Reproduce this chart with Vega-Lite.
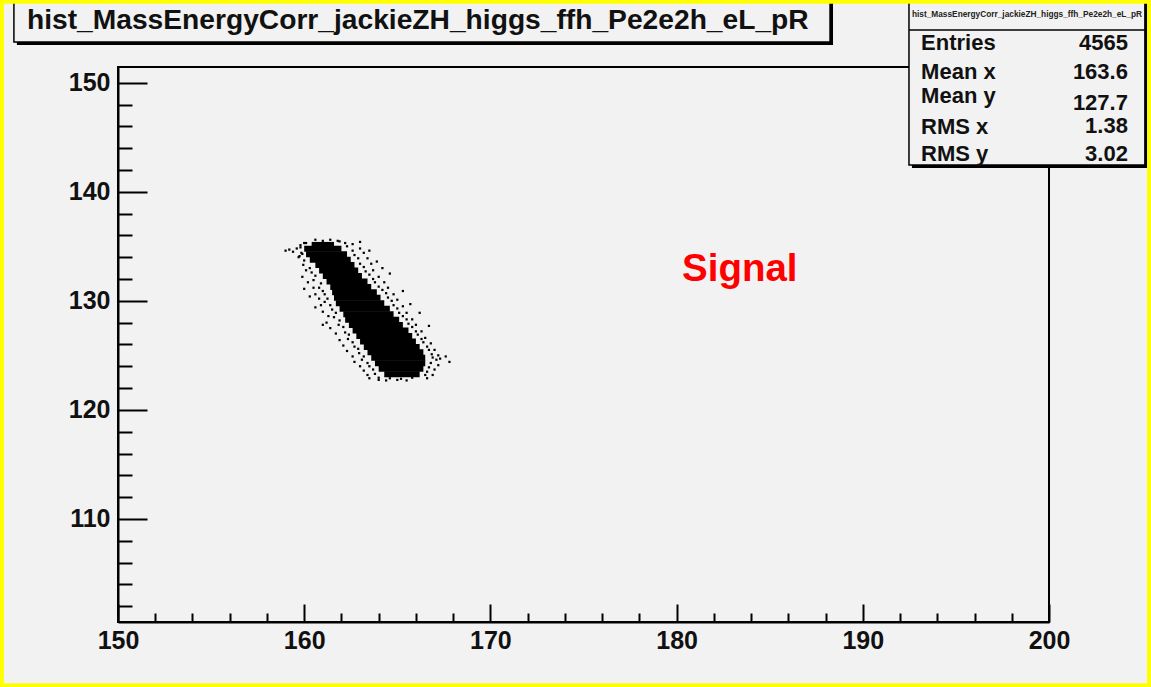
{
  "$schema": "https://vega.github.io/schema/vega-lite/v6.json",
  "width": 931,
  "height": 555,
  "autosize": "none",
  "padding": {"left": 118, "top": 67, "right": 102, "bottom": 65},
  "background": "#f2f2f2",
  "config": {
    "view": {"stroke": "black", "strokeWidth": 2, "fill": "#f2f2f2"},
    "font": "Liberation Sans"
  },
  "datasets": {
    "core": [
      {"y0":135.0,"y1":135.4,"x0":160.4,"x1":161.6},
      {"y0":134.5,"y1":135.05,"x0":160.0,"x1":162.0},
      {"y0":134.0,"y1":134.55,"x0":160.1,"x1":162.3},
      {"y0":133.5,"y1":134.05,"x0":160.3,"x1":162.5},
      {"y0":133.0,"y1":133.55,"x0":160.6,"x1":162.7},
      {"y0":132.5,"y1":133.05,"x0":160.8,"x1":162.9},
      {"y0":132.0,"y1":132.55,"x0":161.0,"x1":163.1},
      {"y0":131.5,"y1":132.05,"x0":161.2,"x1":163.4},
      {"y0":131.0,"y1":131.55,"x0":161.4,"x1":163.6},
      {"y0":130.5,"y1":131.05,"x0":161.5,"x1":163.9},
      {"y0":130.0,"y1":130.55,"x0":161.6,"x1":164.1},
      {"y0":129.5,"y1":130.05,"x0":161.7,"x1":164.3},
      {"y0":129.0,"y1":129.55,"x0":161.9,"x1":164.6},
      {"y0":128.5,"y1":129.05,"x0":162.1,"x1":164.8},
      {"y0":128.0,"y1":128.55,"x0":162.2,"x1":165.1},
      {"y0":127.5,"y1":128.05,"x0":162.4,"x1":165.3},
      {"y0":127.0,"y1":127.55,"x0":162.6,"x1":165.6},
      {"y0":126.5,"y1":127.05,"x0":162.8,"x1":165.8},
      {"y0":126.0,"y1":126.55,"x0":163.0,"x1":166.0},
      {"y0":125.5,"y1":126.05,"x0":163.2,"x1":166.2},
      {"y0":125.0,"y1":125.55,"x0":163.4,"x1":166.4},
      {"y0":124.5,"y1":125.05,"x0":163.6,"x1":166.5},
      {"y0":124.0,"y1":124.55,"x0":163.8,"x1":166.5},
      {"y0":123.5,"y1":124.05,"x0":164.0,"x1":166.4},
      {"y0":123.0,"y1":123.55,"x0":164.3,"x1":166.2}
    ],
    "fringe": [
      {"x":159.0,"y":134.6},{"x":159.2,"y":134.7},{"x":159.4,"y":134.5},{"x":159.6,"y":134.8},{"x":159.8,"y":135.1},
      {"x":160.0,"y":135.3},{"x":159.9,"y":134.3},{"x":159.7,"y":134.0},
      {"x":160.6,"y":135.6},{"x":161.0,"y":135.5},{"x":161.4,"y":135.6},{"x":161.8,"y":135.5},{"x":162.2,"y":135.3},
      {"x":162.6,"y":135.2},{"x":163.0,"y":135.4},{"x":163.0,"y":134.8},{"x":163.2,"y":134.4},
      {"x":159.9,"y":132.2},{"x":160.2,"y":131.7},{"x":160.0,"y":131.1},{"x":160.1,"y":132.8},{"x":160.5,"y":131.2},
      {"x":160.6,"y":130.6},{"x":160.8,"y":130.2},{"x":160.9,"y":129.6},{"x":161.0,"y":129.0},{"x":161.3,"y":128.6},
      {"x":161.2,"y":128.0},{"x":161.4,"y":127.5},{"x":161.7,"y":127.0},{"x":161.9,"y":126.4},{"x":162.1,"y":125.9},
      {"x":162.3,"y":125.4},{"x":162.6,"y":124.9},{"x":162.7,"y":124.4},{"x":163.0,"y":124.0},{"x":163.2,"y":123.6},
      {"x":163.4,"y":123.2},{"x":163.5,"y":122.9},{"x":164.0,"y":122.75},{"x":164.4,"y":122.7},{"x":165.0,"y":122.75},
      {"x":165.5,"y":122.7},{"x":160.6,"y":129.4},{"x":160.3,"y":130.4},{"x":161.0,"y":127.8},
      {"x":163.4,"y":133.9},{"x":163.6,"y":133.4},{"x":163.7,"y":132.8},{"x":164.0,"y":132.2},{"x":164.3,"y":131.7},
      {"x":164.5,"y":131.2},{"x":164.8,"y":130.6},{"x":165.0,"y":130.1},{"x":165.3,"y":129.5},{"x":165.5,"y":128.9},
      {"x":165.8,"y":128.3},{"x":166.0,"y":127.8},{"x":166.3,"y":127.2},{"x":166.5,"y":126.6},{"x":166.8,"y":126.1},
      {"x":167.0,"y":125.5},{"x":167.2,"y":125.0},{"x":167.1,"y":124.6},{"x":167.3,"y":124.7},{"x":167.6,"y":124.9},
      {"x":167.8,"y":124.4},{"x":167.2,"y":124.1},{"x":167.0,"y":123.7},{"x":166.9,"y":123.2},{"x":166.6,"y":122.9},
      {"x":163.9,"y":133.6},{"x":164.2,"y":133.0},{"x":165.3,"y":130.9},{"x":165.7,"y":129.7},{"x":163.5,"y":134.6},
      {"x":164.6,"y":132.5},{"x":166.2,"y":128.9},{"x":166.7,"y":127.7},
      {"x":160.1,"y":135.3},{"x":159.8,"y":134.9},{"x":159.85,"y":134.4},{"x":159.75,"y":134.1},{"x":160.0,"y":133.7},
      {"x":159.95,"y":133.3},{"x":160.3,"y":133.0},{"x":160.4,"y":132.6},{"x":160.6,"y":132.3},{"x":160.5,"y":131.9},
      {"x":160.9,"y":131.6},{"x":160.8,"y":131.2},{"x":161.0,"y":130.9},{"x":161.1,"y":130.6},{"x":161.25,"y":130.2},
      {"x":161.1,"y":129.9},{"x":161.4,"y":129.6},{"x":161.5,"y":129.2},{"x":161.7,"y":128.9},{"x":161.6,"y":128.5},
      {"x":161.9,"y":128.2},{"x":161.85,"y":127.8},{"x":162.1,"y":127.6},{"x":162.2,"y":127.1},{"x":162.4,"y":126.9},
      {"x":162.35,"y":126.5},{"x":162.6,"y":126.2},{"x":162.7,"y":125.8},{"x":162.9,"y":125.6},{"x":162.95,"y":125.2},
      {"x":163.2,"y":124.9},{"x":163.1,"y":124.6},{"x":163.4,"y":124.3},{"x":163.5,"y":124.0},{"x":163.7,"y":123.7},
      {"x":163.8,"y":123.3},{"x":164.0,"y":122.95},{"x":164.6,"y":122.9},{"x":165.2,"y":122.85},{"x":165.8,"y":122.95},
      {"x":161.9,"y":135.45},{"x":162.3,"y":135.0},{"x":162.6,"y":134.6},{"x":162.7,"y":134.2},{"x":162.9,"y":133.9},
      {"x":163.0,"y":133.4},{"x":163.2,"y":133.1},{"x":163.3,"y":132.7},{"x":163.5,"y":132.4},{"x":163.7,"y":132.0},
      {"x":163.8,"y":131.7},{"x":164.0,"y":131.3},{"x":164.2,"y":131.0},{"x":164.4,"y":130.7},{"x":164.5,"y":130.3},
      {"x":164.7,"y":130.0},{"x":164.8,"y":129.6},{"x":165.0,"y":129.3},{"x":165.1,"y":128.9},{"x":165.3,"y":128.6},
      {"x":165.5,"y":128.3},{"x":165.6,"y":127.9},{"x":165.8,"y":127.6},{"x":166.0,"y":127.2},{"x":166.1,"y":126.9},
      {"x":166.3,"y":126.5},{"x":166.4,"y":126.2},{"x":166.6,"y":125.8},{"x":166.7,"y":125.5},{"x":166.85,"y":125.1},
      {"x":166.9,"y":124.8},{"x":166.8,"y":124.3},{"x":166.7,"y":123.9},{"x":166.6,"y":123.5},{"x":166.5,"y":123.2}
    ],
    "stats": [
      {"label":"Entries","value":"4565","ly":153.64,"vy":153.64},
      {"label":"Mean x","value":"163.6","ly":150.98,"vy":150.98},
      {"label":"Mean y","value":"127.7","ly":148.78,"vy":148.14},
      {"label":"RMS x","value":"1.38","ly":145.94,"vy":146.03},
      {"label":"RMS y","value":"3.02","ly":143.46,"vy":143.46}
    ]
  },
  "layer": [
    {
      "data": {"name": "core"},
      "mark": {"type": "rect", "color": "black"},
      "encoding": {
        "x": {"field": "x0", "type": "quantitative", "scale": {"domain": [150, 200], "nice": false, "zero": false},
          "axis": {"orient": "bottom", "values": [150,160,170,180,190,200], "tickSize": -18, "tickWidth": 2, "tickColor": "black",
            "domainColor": "black", "domainWidth": 2, "grid": false, "title": null,
            "labelFont": "Liberation Sans", "labelFontWeight": "bold", "labelFontSize": 25, "labelColor": "#111",
            "labelPadding": 24, "labelFlush": false}},
        "x2": {"field": "x1"},
        "y": {"field": "y0", "type": "quantitative", "scale": {"domain": [100.55, 151.44], "nice": false, "zero": false},
          "axis": {"orient": "left", "values": [110,120,130,140,150], "tickSize": -29, "tickWidth": 2, "tickColor": "black",
            "domainColor": "black", "domainWidth": 2, "grid": false, "title": null,
            "labelFont": "Liberation Sans", "labelFontWeight": "bold", "labelFontSize": 25, "labelColor": "#111",
            "labelPadding": 37, "labelFlush": false}},
        "y2": {"field": "y1"}
      }
    },
    {
      "data": {"name": "fringe"},
      "mark": {"type": "square", "color": "black", "size": 5, "opacity": 1},
      "encoding": {
        "x": {"field": "x", "type": "quantitative", "scale": {"domain": [150, 200], "nice": false, "zero": false},
          "axis": {"orient": "bottom", "values": [152,154,156,158,162,164,166,168,172,174,176,178,182,184,186,188,192,194,196,198],
            "tickSize": -9, "tickWidth": 2, "tickColor": "black", "labels": false, "domain": false, "grid": false, "title": null}},
        "y": {"field": "y", "type": "quantitative", "scale": {"domain": [100.55, 151.44], "nice": false, "zero": false},
          "axis": {"orient": "left", "values": [102,104,106,108,112,114,116,118,122,124,126,128,132,134,136,138,142,144,146,148],
            "tickSize": -14, "tickWidth": 2, "tickColor": "black", "labels": false, "domain": false, "grid": false, "title": null}}
      }
    },
    {
      "data": {"values": [{"x0": 144.57, "x1": 188.40, "y0": 153.45, "y1": 158.5}]},
      "mark": {"type": "rect", "color": "black", "clip": false},
      "encoding": {
        "x": {"field": "x0", "type": "quantitative", "scale": {"domain": [150, 200], "nice": false, "zero": false}, "axis": null},
        "x2": {"field": "x1"},
        "y": {"field": "y0", "type": "quantitative", "scale": {"domain": [100.55, 151.44], "nice": false, "zero": false}, "axis": null},
        "y2": {"field": "y1"}
      }
    },
    {
      "data": {"values": [{"x0": 144.41, "x1": 188.24, "y0": 153.73, "y1": 158.5}]},
      "mark": {"type": "rect", "fill": "#f2f2f2", "stroke": "black", "strokeWidth": 1.5, "clip": false},
      "encoding": {
        "x": {"field": "x0", "type": "quantitative", "scale": {"domain": [150, 200], "nice": false, "zero": false}, "axis": null},
        "x2": {"field": "x1"},
        "y": {"field": "y0", "type": "quantitative", "scale": {"domain": [100.55, 151.44], "nice": false, "zero": false}, "axis": null},
        "y2": {"field": "y1"}
      }
    },
    {
      "data": {"values": [{"x": 145.11, "y": 154.93, "t": "hist_MassEnergyCorr_jackieZH_higgs_ffh_Pe2e2h_eL_pR"}]},
      "mark": {"type": "text", "align": "left", "baseline": "alphabetic", "font": "Liberation Sans", "fontWeight": "bold", "fontSize": 28.2, "color": "#111", "clip": false},
      "encoding": {
        "x": {"field": "x", "type": "quantitative", "scale": {"domain": [150, 200], "nice": false, "zero": false}, "axis": null},
        "y": {"field": "y", "type": "quantitative", "scale": {"domain": [100.55, 151.44], "nice": false, "zero": false}, "axis": null},
        "text": {"field": "t"}
      }
    },
    {
      "data": {"values": [{"x0": 192.64, "x1": 205.31, "y0": 142.17, "y1": 158.5}]},
      "mark": {"type": "rect", "color": "black", "clip": false},
      "encoding": {
        "x": {"field": "x0", "type": "quantitative", "scale": {"domain": [150, 200], "nice": false, "zero": false}, "axis": null},
        "x2": {"field": "x1"},
        "y": {"field": "y0", "type": "quantitative", "scale": {"domain": [100.55, 151.44], "nice": false, "zero": false}, "axis": null},
        "y2": {"field": "y1"}
      }
    },
    {
      "data": {"values": [{"x0": 192.48, "x1": 205.15, "y0": 142.45, "y1": 158.5}]},
      "mark": {"type": "rect", "fill": "#f2f2f2", "stroke": "black", "strokeWidth": 1.5, "clip": false},
      "encoding": {
        "x": {"field": "x0", "type": "quantitative", "scale": {"domain": [150, 200], "nice": false, "zero": false}, "axis": null},
        "x2": {"field": "x1"},
        "y": {"field": "y0", "type": "quantitative", "scale": {"domain": [100.55, 151.44], "nice": false, "zero": false}, "axis": null},
        "y2": {"field": "y1"}
      }
    },
    {
      "data": {"values": [{"x0": 192.48, "x1": 205.15, "y": 154.83}]},
      "mark": {"type": "rule", "color": "black", "strokeWidth": 1.5, "clip": false},
      "encoding": {
        "x": {"field": "x0", "type": "quantitative", "scale": {"domain": [150, 200], "nice": false, "zero": false}, "axis": null},
        "x2": {"field": "x1"},
        "y": {"field": "y", "type": "quantitative", "scale": {"domain": [100.55, 151.44], "nice": false, "zero": false}, "axis": null}
      }
    },
    {
      "data": {"values": [{"x": 198.82, "y": 156.21, "t": "hist_MassEnergyCorr_jackieZH_higgs_ffh_Pe2e2h_eL_pR"}]},
      "mark": {"type": "text", "align": "center", "baseline": "middle", "font": "Liberation Sans", "fontWeight": "bold", "fontSize": 8.3, "color": "#222", "clip": false},
      "encoding": {
        "x": {"field": "x", "type": "quantitative", "scale": {"domain": [150, 200], "nice": false, "zero": false}, "axis": null},
        "y": {"field": "y", "type": "quantitative", "scale": {"domain": [100.55, 151.44], "nice": false, "zero": false}, "axis": null},
        "text": {"field": "t"}
      }
    },
    {
      "data": {"name": "stats"},
      "transform": [{"calculate": "193.13", "as": "lx"}],
      "mark": {"type": "text", "align": "left", "baseline": "middle", "font": "Liberation Sans", "fontWeight": "bold", "fontSize": 22, "color": "#111", "clip": false},
      "encoding": {
        "x": {"field": "lx", "type": "quantitative", "scale": {"domain": [150, 200], "nice": false, "zero": false}, "axis": null},
        "y": {"field": "ly", "type": "quantitative", "scale": {"domain": [100.55, 151.44], "nice": false, "zero": false}, "axis": null},
        "text": {"field": "label"}
      }
    },
    {
      "data": {"name": "stats"},
      "transform": [{"calculate": "204.24", "as": "vx"}],
      "mark": {"type": "text", "align": "right", "baseline": "middle", "font": "Liberation Sans", "fontWeight": "bold", "fontSize": 22, "color": "#111", "clip": false},
      "encoding": {
        "x": {"field": "vx", "type": "quantitative", "scale": {"domain": [150, 200], "nice": false, "zero": false}, "axis": null},
        "y": {"field": "vy", "type": "quantitative", "scale": {"domain": [100.55, 151.44], "nice": false, "zero": false}, "axis": null},
        "text": {"field": "value"}
      }
    },
    {
      "data": {"values": [{"x": 180.29, "y": 131.8, "t": "Signal"}]},
      "mark": {"type": "text", "align": "left", "baseline": "alphabetic", "font": "Liberation Sans", "fontWeight": "bold", "fontSize": 38.5, "color": "#ff0000"},
      "encoding": {
        "x": {"field": "x", "type": "quantitative", "scale": {"domain": [150, 200], "nice": false, "zero": false}, "axis": null},
        "y": {"field": "y", "type": "quantitative", "scale": {"domain": [100.55, 151.44], "nice": false, "zero": false}, "axis": null},
        "text": {"field": "t"}
      }
    },
    {
      "data": {"values": [{"x0": 143.66, "x1": 205.48, "y0": 94.56, "y1": 157.6}]},
      "mark": {"type": "rect", "fillOpacity": 0, "stroke": "#ffff00", "strokeWidth": 8, "clip": false},
      "encoding": {
        "x": {"field": "x0", "type": "quantitative", "scale": {"domain": [150, 200], "nice": false, "zero": false}, "axis": null},
        "x2": {"field": "x1"},
        "y": {"field": "y0", "type": "quantitative", "scale": {"domain": [100.55, 151.44], "nice": false, "zero": false}, "axis": null},
        "y2": {"field": "y1"}
      }
    }
  ],
  "resolve": {"axis": {"x": "independent", "y": "independent"}}
}
